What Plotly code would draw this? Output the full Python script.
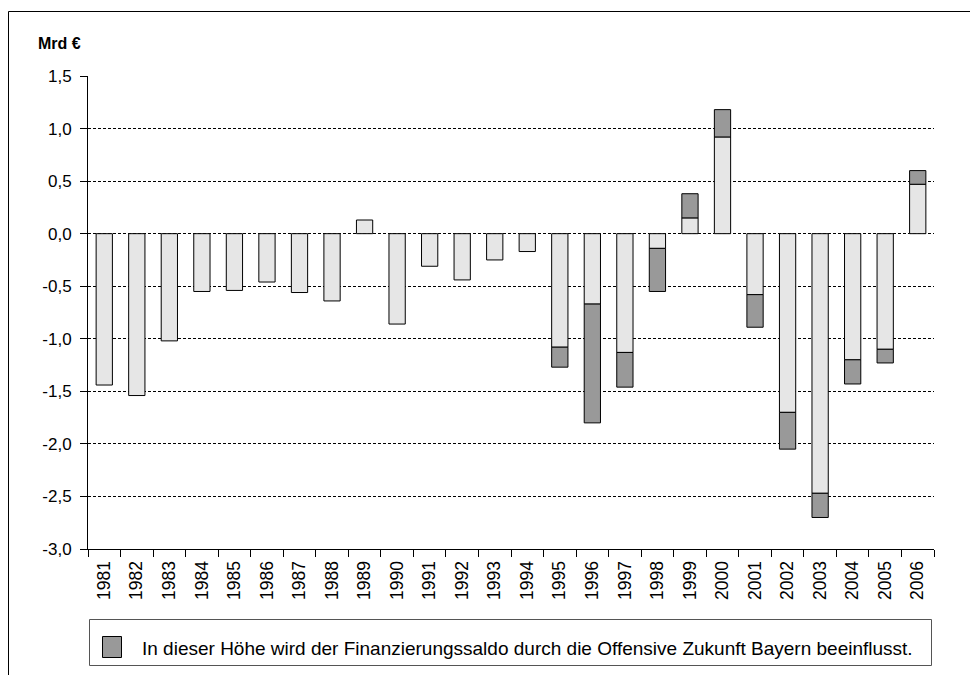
import plotly.graph_objects as go

years = [str(y) for y in range(1981, 2007)]
# Finanzierungssaldo ohne Offensive Zukunft Bayern (light part), Mrd €
base_values = [-1.44, -1.54, -1.02, -0.55, -0.54, -0.46, -0.56, -0.64, 0.13, -0.86,
               -0.31, -0.44, -0.25, -0.17, -1.08, -0.67, -1.13, -0.14, 0.15, 0.92,
               -0.58, -1.70, -2.47, -1.20, -1.10, 0.47]
# Einfluss der Offensive Zukunft Bayern (dark part), Mrd €
offensive_values = [None] * 14 + [-0.19, -1.13, -0.33, -0.41, 0.23, 0.26,
                                  -0.31, -0.35, -0.23, -0.23, -0.13, 0.13]
y_tick_values = [1.5, 1.0, 0.5, 0.0, -0.5, -1.0, -1.5, -2.0, -2.5, -3.0]
y_tick_labels = ["1,5", "1,0", "0,5", "0,0", "-0,5", "-1,0", "-1,5", "-2,0", "-2,5", "-3,0"]
legend_text = "In dieser Höhe wird der Finanzierungssaldo durch die Offensive Zukunft Bayern beeinflusst."
y_title = "Mrd €"

# page body has an 8px margin: figure pixel = screen pixel - OFF
OFF = 8
W, H = 978 - OFF, 675 - OFF
L, R, T, B = 88 - OFF, 934 - OFF, 76 - OFF, 549 - OFF

def px(x):  # screen x -> paper
    return (x - OFF - L) / (R - L)

def py(y):  # screen y -> paper
    return (B - (y - OFF)) / (B - T)

FONT = "Arial, Liberation Sans, sans-serif"

fig = go.Figure()
fig.add_trace(go.Bar(
    x=years, y=base_values, name="Finanzierungssaldo",
    marker=dict(color="#e6e6e6", line=dict(color="#000000", width=1)),
    showlegend=False,
))
fig.add_trace(go.Bar(
    x=years, y=offensive_values, name=legend_text,
    marker=dict(color="#999999", line=dict(color="#000000", width=1)),
    showlegend=False,
))

shapes = [
    # outer frame (left & top)
    dict(type="line", xref="paper", yref="paper", x0=px(8.5), x1=px(8.5), y0=py(11.5), y1=py(700),
         line=dict(color="#000", width=1)),
    dict(type="line", xref="paper", yref="paper", x0=px(8.5), x1=px(1000), y0=py(11.5), y1=py(11.5),
         line=dict(color="#000", width=1)),
    # legend box
    dict(type="rect", xref="paper", yref="paper", x0=px(89.5), x1=px(931.5), y0=py(619.5), y1=py(665.5),
         line=dict(color="#555", width=1), fillcolor="rgba(0,0,0,0)"),
    # legend marker
    dict(type="rect", xref="paper", yref="paper", x0=px(102.5), x1=px(121.5), y0=py(636.5), y1=py(657.5),
         line=dict(color="#000", width=1), fillcolor="#999999"),
]

annotations = [
    dict(text="<b>" + y_title + "</b>", xref="paper", yref="paper", x=px(36), y=py(44),
         xanchor="left", yanchor="middle", showarrow=False,
         font=dict(family=FONT, size=16, color="#000")),
    dict(text=legend_text, xref="paper", yref="paper", x=px(140), y=py(648),
         xanchor="left", yanchor="middle", showarrow=False,
         font=dict(family=FONT, size=19, color="#000")),
]

fig.update_layout(
    width=W, height=H,
    margin=dict(l=L, r=W - R, t=T, b=H - B, autoexpand=False),
    paper_bgcolor="white", plot_bgcolor="white",
    barmode="relative", bargap=0.5,
    separators=",.",
    font=dict(family=FONT, size=17, color="#000"),
    shapes=shapes, annotations=annotations,
)
fig.update_xaxes(
    type="category", showgrid=False, showline=True, linecolor="#000", linewidth=1,
    ticks="outside", tickson="boundaries", ticklen=7, tickcolor="#000",
    tickangle=-90, ticklabelstandoff=4,
    tickfont=dict(family=FONT, size=17.5, color="#000"),
)
fig.update_yaxes(
    range=[-3.0, 1.5], tickmode="array", tickvals=y_tick_values, ticktext=y_tick_labels,
    showgrid=True, gridcolor="#000", gridwidth=1, griddash="3px,2px",
    zeroline=False, showline=True, linecolor="#000", linewidth=1,
    ticks="outside", ticklen=7, tickcolor="#000", ticklabelstandoff=5,
    tickfont=dict(family=FONT, size=17, color="#000"),
)

fig.write_html("out.html")
